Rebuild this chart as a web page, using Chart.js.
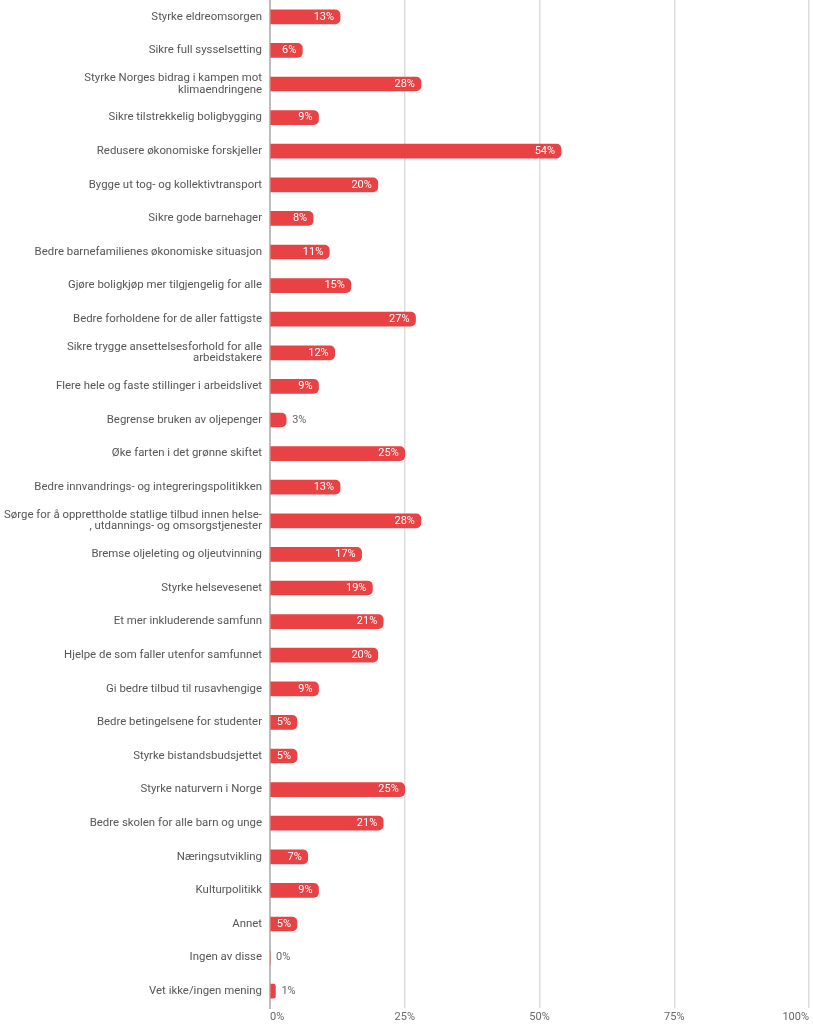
<!DOCTYPE html>
<html>
<head>
<meta charset="utf-8">
<script src="https://cdn.jsdelivr.net/npm/chart.js@4"></script>
<style>
  html, body { margin: 0; padding: 0; background: #fff; }
  #wrap { width: 813px; height: 1024px; }
</style>
</head>
<body>
<div id="wrap"><canvas id="barChart"></canvas></div>
<script>
const categories = [
    'Styrke eldreomsorgen',
    'Sikre full sysselsetting',
    ['Styrke Norges bidrag i kampen mot', 'klimaendringene'],
    'Sikre tilstrekkelig boligbygging',
    'Redusere økonomiske forskjeller',
    'Bygge ut tog- og kollektivtransport',
    'Sikre gode barnehager',
    'Bedre barnefamilienes økonomiske situasjon',
    'Gjøre boligkjøp mer tilgjengelig for alle',
    'Bedre forholdene for de aller fattigste',
    ['Sikre trygge ansettelsesforhold for alle', 'arbeidstakere'],
    'Flere hele og faste stillinger i arbeidslivet',
    'Begrense bruken av oljepenger',
    'Øke farten i det grønne skiftet',
    'Bedre innvandrings- og integreringspolitikken',
    ['Sørge for å opprettholde statlige tilbud innen helse-', ', utdannings- og omsorgstjenester'],
    'Bremse oljeleting og oljeutvinning',
    'Styrke helsevesenet',
    'Et mer inkluderende samfunn',
    'Hjelpe de som faller utenfor samfunnet',
    'Gi bedre tilbud til rusavhengige',
    'Bedre betingelsene for studenter',
    'Styrke bistandsbudsjettet',
    'Styrke naturvern i Norge',
    'Bedre skolen for alle barn og unge',
    'Næringsutvikling',
    'Kulturpolitikk',
    'Annet',
    'Ingen av disse',
    'Vet ikke/ingen mening'
];

const percentValues = [13, 6, 28, 9, 54, 20, 8, 11, 15, 27, 12, 9, 3, 25, 13, 28, 17, 19, 21, 20, 9, 5, 5, 25, 21, 7, 9, 5, 0, 1];

const xTicks = [0, 25, 50, 75, 100];

const fontFamily = 'Roboto, "Noto Sans", sans-serif';

// draws the % labels: inside the bar end when it fits, otherwise right of it
const valueLabels = {
    id: 'valueLabels',
    afterDatasetsDraw(chart) {
        const ctx = chart.ctx;
        const meta = chart.getDatasetMeta(0);
        ctx.save();
        ctx.font = '11px ' + fontFamily;
        ctx.textBaseline = 'middle';
        meta.data.forEach((bar, i) => {
            const text = percentValues[i] + '%';
            const w = ctx.measureText(text).width;
            const barW = bar.x - bar.base;
            if (barW > w + 10) {
                ctx.fillStyle = '#ffffff';
                ctx.textAlign = 'right';
                ctx.fillText(text, bar.x - 6, bar.y);
            } else {
                ctx.fillStyle = '#666666';
                ctx.textAlign = 'left';
                ctx.fillText(text, bar.x + 6, bar.y);
            }
        });
        ctx.restore();
    }
};

new Chart(document.getElementById('barChart'), {
    type: 'bar',
    data: {
        labels: categories,
        datasets: [{
            data: percentValues,
            backgroundColor: 'rgb(232, 66, 68)',
            barThickness: 14,
            borderRadius: 5,
            borderSkipped: 'start'
        }]
    },
    options: {
        indexAxis: 'y',
        responsive: true,
        maintainAspectRatio: false,
        animation: false,
        layout: { padding: { top: 0, right: 4, bottom: 0, left: 0 } },
        plugins: {
            legend: { display: false },
            tooltip: { enabled: false }
        },
        scales: {
            x: {
                min: 0,
                max: 100,
                afterBuildTicks: (scale) => {
                    scale.ticks = xTicks.map(v => ({ value: v }));
                },
                afterFit: (scale) => { scale.height = 16; },
                grid: { color: '#dcdcdc', lineWidth: 1.5, drawTicks: false },
                border: { display: false },
                ticks: {
                    align: 'inner',
                    padding: 3,
                    color: '#666',
                    font: { family: fontFamily, size: 11 },
                    callback: (v) => v + '%'
                }
            },
            y: {
                afterFit: (scale) => {
                    scale.width = 270;
                    scale.paddingTop = 0;
                    scale.paddingBottom = 0;
                },
                grid: { display: false, drawTicks: false },
                border: { display: true, color: '#bdbdbd', width: 2 },
                ticks: {
                    autoSkip: false,
                    padding: 8,
                    color: '#555',
                    font: { family: fontFamily, size: 11.4, lineHeight: 1.0 }
                }
            }
        }
    },
    plugins: [valueLabels]
});
</script>
</body>
</html>
